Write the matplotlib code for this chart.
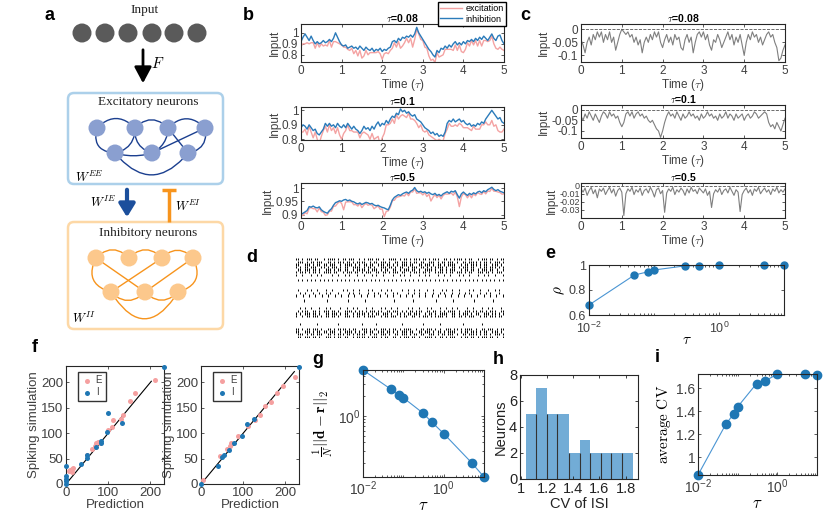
import numpy as np
import matplotlib
matplotlib.use('Agg')
import matplotlib.pyplot as plt
from matplotlib.patches import Circle, FancyBboxPatch, FancyArrowPatch
from matplotlib.ticker import LogLocator, NullFormatter

plt.rcParams['font.family'] = ['Liberation Sans', 'DejaVu Sans']
plt.rcParams['mathtext.fontset'] = 'cm'

# ---------------- data ----------------
time_step = 0.05  # traces sampled every 0.05 tau

# inhibition input (blue) and excitation - inhibition (panel c)
b1_inh = [0.92, 0.96, 0.99, 0.96, 0.93, 0.97, 0.93, 0.90, 0.92, 0.90,
          0.91, 0.93, 0.91, 0.92, 0.94, 0.92, 0.95, 1.00, 0.96, 0.92,
          0.89, 0.88, 0.89, 0.86, 0.87, 0.88, 0.86, 0.87, 0.85, 0.88,
          0.86, 0.84, 0.87, 0.85, 0.84, 0.86, 0.83, 0.85, 0.84, 0.86,
          0.83, 0.85, 0.84, 0.86, 0.87, 0.92, 0.93, 0.91, 0.95, 0.93,
          0.96, 0.95, 0.97, 0.96, 0.98, 0.96, 0.99, 1.05, 1.00, 0.97,
          0.94, 0.91, 0.88, 0.85, 0.83, 0.80, 0.78, 0.84, 0.82, 0.86,
          0.85, 0.88, 0.86, 0.89, 0.87, 0.90, 0.92, 0.89, 0.91, 0.89,
          0.92, 0.90, 0.93, 0.92, 0.94, 0.92, 0.95, 0.93, 0.96, 0.94,
          0.97, 0.95, 0.93, 0.96, 0.99, 0.95, 0.93, 0.97, 0.98, 0.93,
          0.90]
c1_diff = [-0.04, -0.06, -0.09, -0.05, -0.03, -0.06, -0.02, -0.04, -0.01, -0.03,
           -0.01, -0.05, -0.02, -0.04, -0.01, -0.05, -0.03, -0.08, -0.05, -0.02,
           0.00, -0.01, -0.02, -0.01, -0.03, -0.02, -0.05, -0.03, -0.06, -0.04,
           -0.09, -0.05, -0.03, -0.05, -0.02, -0.04, -0.01, -0.03, -0.01, -0.05,
           -0.07, -0.04, -0.02, -0.05, -0.03, -0.06, -0.02, -0.04, -0.03, -0.07,
           -0.08, -0.04, -0.02, -0.05, -0.03, -0.09, -0.05, -0.02, -0.01, -0.03,
           -0.01, -0.04, -0.02, -0.06, -0.08, -0.04, -0.05, -0.02, -0.04, -0.07,
           -0.05, -0.03, -0.01, -0.04, -0.02, -0.06, -0.03, -0.05, -0.02, -0.06,
           -0.10, -0.05, -0.02, -0.04, -0.01, -0.03, -0.02, -0.05, -0.03, -0.06,
           -0.04, -0.02, -0.01, -0.03, -0.02, -0.05, -0.07, -0.12, -0.11, -0.08,
           -0.06]

b2_inh = [0.88, 0.90, 0.89, 0.87, 0.90, 0.88, 0.86, 0.87, 0.84, 0.83,
          0.85, 0.87, 0.91, 0.89, 0.91, 0.89, 0.90, 0.88, 0.91, 0.89,
          0.88, 0.90, 0.88, 0.91, 0.89, 0.87, 0.89, 0.87, 0.86, 0.84,
          0.86, 0.89, 0.87, 0.88, 0.86, 0.89, 0.87, 0.90, 0.92, 0.89,
          0.91, 0.90, 0.93, 0.91, 0.94, 0.96, 0.95, 0.98, 0.97, 1.01,
          0.99, 1.00, 0.98, 0.99, 0.97, 0.96, 0.97, 0.94, 0.93, 0.92,
          0.90, 0.88, 0.87, 0.86, 0.84, 0.85, 0.83, 0.84, 0.82, 0.83,
          0.82, 0.85, 0.91, 0.93, 0.92, 0.94, 0.92, 0.93, 0.94, 0.92,
          0.93, 0.91, 0.90, 0.91, 0.89, 0.90, 0.89, 0.91, 0.90, 0.92,
          0.91, 0.94, 0.96, 0.98, 1.00, 0.98, 0.96, 0.94, 0.95, 0.92,
          0.91]
c2_diff = [-0.03, -0.05, -0.02, -0.04, -0.01, -0.03, -0.05, -0.02, -0.04, -0.06,
           -0.03, -0.01, -0.02, -0.04, -0.01, -0.03, -0.02, -0.04, -0.03, -0.06,
           -0.08, -0.06, -0.02, -0.01, -0.03, -0.01, -0.04, -0.02, -0.01, -0.03,
           -0.02, -0.04, -0.03, -0.05, -0.06, -0.05, -0.07, -0.09, -0.10, -0.13,
           -0.10, -0.06, -0.03, -0.01, -0.03, -0.02, -0.04, -0.01, -0.03, -0.05,
           -0.02, -0.04, -0.03, -0.01, -0.03, -0.02, -0.04, -0.03, -0.05, -0.02,
           -0.04, -0.03, -0.01, -0.03, -0.02, -0.04, -0.03, -0.05, -0.02, -0.04,
           -0.03, -0.01, -0.04, -0.02, -0.03, -0.05, -0.02, -0.04, -0.03, -0.02,
           -0.05, -0.03, -0.02, -0.04, -0.03, -0.01, -0.02, -0.04, -0.03, -0.02,
           -0.01, -0.02, -0.06, -0.08, -0.07, -0.09, -0.06, -0.08, -0.10, -0.07,
           -0.04]

b3_inh = [0.900, 0.905, 0.910, 0.915, 0.930, 0.928, 0.932, 0.927, 0.925, 0.929,
          0.918, 0.912, 0.908, 0.905, 0.915, 0.922, 0.935, 0.945, 0.948, 0.952,
          0.950, 0.955, 0.957, 0.952, 0.955, 0.950, 0.948, 0.943, 0.940, 0.944,
          0.938, 0.942, 0.946, 0.944, 0.940, 0.942, 0.936, 0.933, 0.935, 0.930,
          0.927, 0.925, 0.921, 0.918, 0.935, 0.955, 0.965, 0.970, 0.975, 0.972,
          0.978, 0.982, 0.985, 0.980, 0.988, 0.992, 1.002, 0.990, 0.985, 0.988,
          0.983, 0.986, 0.980, 0.984, 0.978, 0.975, 0.980, 0.972, 0.976, 0.970,
          0.978, 0.982, 0.986, 0.980, 0.988, 0.985, 0.990, 0.975, 0.962, 0.978,
          0.985, 0.978, 0.972, 0.980, 0.975, 0.982, 0.978, 0.985, 0.988, 0.982,
          0.990, 0.986, 0.994, 0.998, 1.003, 0.995, 0.990, 0.994, 0.988, 0.985,
          0.982]
c3_diff = [-0.004, -0.008, -0.003, -0.012, -0.006, -0.002, -0.010, -0.005, -0.015, -0.004,
           -0.007, -0.003, -0.011, -0.006, -0.002, -0.009, -0.004, -0.013, -0.006, -0.003,
           -0.008, -0.037, -0.010, -0.004, -0.007, -0.002, -0.011, -0.005, -0.008, -0.003,
           -0.012, -0.006, -0.004, -0.009, -0.002, -0.007, -0.014, -0.005, -0.003, -0.010,
           -0.006, -0.033, -0.009, -0.004, -0.007, -0.002, -0.011, -0.005, -0.008, -0.003,
           -0.006, -0.012, -0.004, -0.009, -0.002, -0.007, -0.005, -0.010, -0.003, -0.006,
           -0.009, -0.004, -0.012, -0.007, -0.027, -0.010, -0.005, -0.008, -0.003, -0.011,
           -0.006, -0.004, -0.009, -0.002, -0.007, -0.012, -0.005, -0.008, -0.032, -0.011,
           -0.006, -0.003, -0.009, -0.005, -0.012, -0.004, -0.007, -0.002, -0.010, -0.006,
           -0.003, -0.008, -0.005, -0.011, -0.004, -0.007, -0.002, -0.009, -0.005, -0.008,
           -0.004]

tau_titles = ['0.08', '0.1', '0.5']
b_ylims = [(0.735, 1.08), (0.795, 1.023), (0.887, 1.019)]
b_yticks = [[0.8, 0.9, 1], [0.8, 0.9, 1], [0.9, 0.95, 1]]
b_yticklabels = [['0.8', '0.9', '1'], ['0.8', '0.9', '1'], ['0.9', '0.95', '1']]
c_ylims = [(-0.125, 0.02), (-0.133, 0.022), (-0.040, 0.0033)]
c_yticks = [[-0.1, -0.05, 0], [-0.1, -0.05, 0], [-0.03, -0.02, -0.01, 0]]
c_yticklabels = [['-0.1', '-0.05', '0'], ['-0.1', '-0.05', '0'], ['-0.03', '-0.02', '-0.01', '0']]
time_ticks = [0, 1, 2, 3, 4, 5]

# panel d spike raster, one string per neuron ('|' = spike in a bin)
D_a = "||.|.|||.||..|.||||.|.||.|||..|.|.|||.||.|..||||.|.||.|.|||.||.|.|||..||.|.||||.|.||..|.|||.||.|.||"
D_b = ".|||.|.||.|||..||.|.|||.||.|.||||..|.||.|||.|..||.|||.|.||.||..|||.|.||.|||.|..||.||||.|.||.|.|||.|"
D_c = "||..|||.|.||.||.|||..|.||||.|.|.||.||..|||.||.|.|.|||.||..||.|||.|.||.|.||||..|.||.|||.|.||..|||.|."
D_d = "|.|.||.|||..||.|.|||.|.||..||||.|.||.|..|||.||.|.||..|.|||.||.|.|.||||.|..||.|.|||.||..|.||.|||.|.|"
D_e = ".||.|||.||.|..|||.|.||.||..|.||||.|.|||.|.||..||.|.|||.||.|..||||.|.||.|.|||..|.||.||.|.|||.||.|..|"
M_a = "|..|...|..|.|....|..|..|.|...|..|...|.|..|....|..|.|..|...|..|.|...|..|..|...|.|..|...|..|.|..|...|"
M_b = ".|...|.|..|...|..|....|.|..|..|...|.|...|..|.|....|..|..|.|...|..|...|.|..|..|....|.|..|...|..|.|.."
M_c = "..|.|...|..|..|.|...|....|.|..|...|..|.|..|...|.|....|..|.|..|...|..|.|...|..|..|.|....|..|.|...|.."
R_a = "|..|..|..|..|..|..|..|..|..|..|..|..|..|..|..|..|..|..|..|..|..|..|..|..|..|..|..|..|..|..|..|..|"
R_b = ".|.|.|.|.|.|.|.|.|.|.|.|.|.|.|.|.|.|.|.|.|.|.|.|.|.|.|.|.|.|.|.|.|.|.|.|.|.|.|.|.|.|.|.|.|.|.|.|.|"
S_a = "....|..........|.........|.......|.............|........|..........|.......|.........|........|....."
S_b = "..|.......|.........|..........|......|...........|.........|.......|..........|........|.........."
raster_rows = [D_a, D_b, D_c, D_d, D_e, D_b[::-1], M_a, '', R_b, '', '', '',
               M_b, M_c, R_a, '', S_a, '', '', M_b[::-1], D_c[::-1], D_d[::-1],
               D_e[::-1], '', '', S_b, '', D_a[::-1], D_c, D_b, D_e]

# panel e, g, i
tau_vals = [0.01, 0.05, 0.08, 0.1, 0.3, 0.5, 1, 5, 10]
rho_vals = [0.68, 0.92, 0.945, 0.96, 0.993, 0.996, 0.999, 0.999, 0.999]
err_vals = [4.84, 2.48, 2.04, 1.86, 1.11, 0.813, 0.543, 0.197, 0.1216]
cv_vals = [0.846, 1.287, 1.38, 1.44, 1.643, 1.667, 1.725, 1.725, 1.72]

# panel f
f1_E_pred = [210, 164, 152, 136, 130, 112, 110, 100, 76, 72, 80, 62, 14, 6, 10, 14, 16, 50, 68]
f1_E_sim = [205, 178, 163, 136, 127, 125, 113, 107, 83, 80, 81, 68, 29, 25, 27, 23, 31, 57, 75]
f1_I_pred = [232, 100, 132, 98, 84, 82, 70, 50, 50, 36, 0, 0, 0, 0, 0]
f1_I_sim = [231, 140, 120, 102, 81, 85, 72, 57, 52, 40, 36, 16, 10, 5, 0]
f2_E_pred = [4, 45, 61, 68, 72, 88, 112, 128, 140, 151, 165, 180, 195, 222]
f2_E_sim = [8, 56, 69, 74, 81, 95, 115, 125, 136, 154, 162, 178, 193, 211]
f2_I_pred = [0, 41, 50, 55, 67, 78, 96, 109, 125, 232]
f2_I_sim = [0, 36, 54, 58, 67, 80, 95, 118, 128, 231]
f_line_end = [202, 221]
f_lim = 232

# panel h
cv_edges = [1.04, 1.12, 1.20, 1.28, 1.37, 1.45, 1.53, 1.61, 1.69, 1.77, 1.855]
cv_counts = [5, 7, 5, 5, 2, 3, 2, 2, 2, 2]

# panel a schematic layout (pixel positions)
input_x = [82, 105, 128, 152, 174, 197]
input_y = 33
exc_nodes = [(97, 128), (135, 128), (168, 128), (205, 128), (115, 153), (152, 153), (188, 153)]
inh_nodes = [(96, 258), (129, 258), (162, 258), (193, 258), (111, 292), (145, 292), (178, 292)]
exc_edges = [(0, 1, -0.5), (1, 2, -0.5), (2, 3, -0.5), (0, 4, 0.6), (1, 4, -0.4), (1, 5, 0.4),
             (2, 5, -0.3), (3, 6, -0.5), (4, 5, 0.15), (4, 6, 0.6), (5, 3, 0.0), (2, 6, 0.0)]
inh_edges = [(0, 1, -0.5), (1, 2, -0.5), (2, 3, -0.5), (0, 4, 0.6), (3, 6, -0.6), (0, 5, 0.0),
             (4, 2, 0.0), (5, 3, 0.0), (4, 5, 0.5), (5, 6, 0.5), (4, 6, 0.8)]

# colours
PINK = '#f4a3a3'
BLUE = '#2b7bba'
GRAY = '#7f7f7f'
TXT = '#404040'

W, H = 830, 526
fig = plt.figure(figsize=(8.3, 5.26), dpi=100)


def px_axes(x0, y0, x1, y1):
    return fig.add_axes([x0 / W, 1 - y1 / H, (x1 - x0) / W, (y1 - y0) / H])


def matlab(ax, fs=9):
    ax.tick_params(which='both', direction='in', top=True, right=True,
                   labelsize=fs, colors=TXT, width=0.6, pad=2)
    ax.tick_params(which='major', length=2.5)
    ax.tick_params(which='minor', length=1.5)
    for s in ax.spines.values():
        s.set_linewidth(0.8)
        s.set_color('#262626')


# ---------------- panel a (schematic) ----------------
ax0 = fig.add_axes([0, 0, 1, 1])
ax0.set_xlim(0, W)
ax0.set_ylim(H, 0)
ax0.axis('off')
serif = 'Liberation Serif'

ax0.text(145, 10, 'Input', family=serif, fontsize=9.5, ha='center', va='center', color='#222')
for x in input_x:
    ax0.add_patch(Circle((x, input_y), 9.5, color='#5a5a5a', lw=0))
ax0.annotate('', xy=(143, 86), xytext=(143, 47),
             arrowprops=dict(arrowstyle='-|>,head_width=0.4,head_length=0.75',
                             color='k', lw=2.0, mutation_scale=13))
ax0.text(158, 64, r'$F$', fontsize=11, ha='center', va='center')

ax0.add_patch(FancyBboxPatch((68, 93), 155, 91, boxstyle='round,pad=0,rounding_size=6',
                             fc='white', ec='#acd0ea', lw=1.8))
ax0.text(148, 102, 'Excitatory neurons', family=serif, fontsize=9.5, ha='center', va='center', color='#222')
ax0.add_patch(FancyBboxPatch((68, 222), 155, 107, boxstyle='round,pad=0,rounding_size=6',
                             fc='white', ec='#fdd8a6', lw=1.8))
ax0.text(148, 233, 'Inhibitory neurons', family=serif, fontsize=9.5, ha='center', va='center', color='#222')

for nodes, edges, ecol, ncol in [(exc_nodes, exc_edges, '#1b3f8f', '#8a9fd0'),
                                 (inh_nodes, inh_edges, '#f7941d', '#fcc88c')]:
    for i, j, rad in edges:
        ax0.add_patch(FancyArrowPatch(nodes[i], nodes[j], arrowstyle='-',
                                      connectionstyle='arc3,rad=%g' % rad,
                                      color=ecol, lw=1.0, shrinkA=5, shrinkB=5, zorder=2))
    for (x, y) in nodes:
        ax0.add_patch(Circle((x, y), 8.5, color=ncol, lw=0, zorder=3))

ax0.text(75, 177, r'$W^{EE}$', fontsize=9, ha='left', va='center')
ax0.text(72, 318, r'$W^{II}$', fontsize=9, ha='left', va='center')
ax0.text(103, 202, r'$W^{IE}$', fontsize=9, ha='center', va='center')
ax0.text(188, 206, r'$W^{EI}$', fontsize=9, ha='center', va='center')
ax0.annotate('', xy=(127, 220), xytext=(127, 187),
             arrowprops=dict(arrowstyle='-|>,head_width=0.4,head_length=0.65',
                             color='#1c4f9c', lw=3, mutation_scale=12))
ax0.plot([169, 169], [222, 190], color='#f7941d', lw=2.5, solid_capstyle='butt')
ax0.plot([162, 176], [190, 190], color='#f7941d', lw=2.5, solid_capstyle='butt')

# ---------------- panels b and c ----------------
b_boxes = [(301, 24, 504, 62), (301, 107, 504, 140), (301, 183, 504, 218)]
c_boxes = [(581, 24, 785, 62), (581, 105, 785, 138), (581, 183, 785, 218)]
inh_list = [b1_inh, b2_inh, b3_inh]
diff_list = [c1_diff, c2_diff, c3_diff]

for k in range(3):
    inh = np.array(inh_list[k])
    diff = np.array(diff_list[k])
    exc = inh + diff
    tt = np.arange(len(inh)) * time_step

    ax = px_axes(*b_boxes[k])
    ax.plot(tt, exc, color=PINK, lw=1.0, label='excitation')
    ax.plot(tt, inh, color=BLUE, lw=1.0, label='inhibition')
    ax.set_xlim(0, 5)
    ax.set_ylim(*b_ylims[k])
    ax.set_xticks(time_ticks)
    ax.set_yticks(b_yticks[k])
    ax.set_yticklabels(b_yticklabels[k])
    matlab(ax, 8.5)
    ax.set_ylabel('Input', fontsize=8.5, color=TXT, labelpad=1)
    ax.set_xlabel(r'Time ($\tau$)', fontsize=8.5, color=TXT, labelpad=0)
    ax.set_title(r'$\tau$=' + tau_titles[k], fontsize=7.5, fontweight='bold', pad=1.5)
    if k == 0:
        fig.legend(handles=ax.get_lines(), labels=['excitation', 'inhibition'],
                   loc='upper right', bbox_to_anchor=(506 / W, 1 - 2 / H),
                   fontsize=6.5, fancybox=False, edgecolor='k', framealpha=1,
                   borderpad=0.25, labelspacing=0.15, handlelength=2.4,
                   handletextpad=0.4, borderaxespad=0)

    axc = px_axes(*c_boxes[k])
    axc.plot(tt, diff, color=GRAY, lw=0.8)
    axc.axhline(0, color='#555555', ls='--', lw=0.6)
    axc.set_xlim(0, 5)
    axc.set_ylim(*c_ylims[k])
    axc.set_xticks(time_ticks)
    axc.set_yticks(c_yticks[k])
    axc.set_yticklabels(c_yticklabels[k])
    matlab(axc, 8.5)
    if k == 2:
        axc.tick_params(axis='y', labelsize=6.5, pad=1)
    axc.set_ylabel('Input', fontsize=8.5, color=TXT, labelpad=1)
    axc.set_xlabel(r'Time ($\tau$)', fontsize=8.5, color=TXT, labelpad=0)
    axc.set_title(r'$\tau$=' + tau_titles[k], fontsize=7.5, fontweight='bold', pad=1.5)

# ---------------- panel d raster ----------------
axd = px_axes(295, 258, 504, 338)
for r, row in enumerate(raster_rows):
    if not row:
        continue
    spikes = [5.0 * (i + 0.5) / len(row) for i, ch in enumerate(row) if ch == '|']
    axd.eventplot(spikes, lineoffsets=r, linelengths=0.9, colors='k', linewidths=0.7)
axd.set_xlim(0, 5)
axd.set_ylim(len(raster_rows) - 0.5, -0.5)
axd.axis('off')


def log_tau_axis(ax):
    ax.set_xscale('log')
    ax.set_xlim(0.01, 10)
    ax.set_xticks([1e-2, 1e0])
    ax.xaxis.set_minor_locator(LogLocator(base=10, subs=np.arange(1, 10), numticks=20))
    ax.xaxis.set_minor_formatter(NullFormatter())


LINE_BLUE = '#4a95d3'
DOT_BLUE = '#1f77b4'

# ---------------- panel e ----------------
axe = px_axes(589, 265, 784, 315)
axe.plot(tau_vals, rho_vals, color=LINE_BLUE, lw=0.8)
axe.plot(tau_vals, rho_vals, 'o', color=DOT_BLUE, ms=5, clip_on=False)
log_tau_axis(axe)
axe.set_ylim(0.6, 1)
axe.set_yticks([0.6, 0.8, 1])
axe.set_yticklabels(['0.6', '0.8', '1'])
matlab(axe, 9)
axe.tick_params(axis='x', pad=4)
axe.set_ylabel(r'$\rho$', fontsize=11, labelpad=1)
axe.set_xlabel(r'$\tau$', fontsize=11, labelpad=-2)

# ---------------- panel f ----------------
f_data = [(f1_E_pred, f1_E_sim, f1_I_pred, f1_I_sim), (f2_E_pred, f2_E_sim, f2_I_pred, f2_I_sim)]
f_boxes = [(66, 366, 164, 484), (201, 366, 299, 484)]
for k in range(2):
    ep, es, ip, isim = f_data[k]
    ax = px_axes(*f_boxes[k])
    ax.plot([0, f_line_end[k]], [0, f_line_end[k]], color='k', lw=0.8, zorder=1)
    ax.scatter(ep, es, s=13, color='#f5a0a0', lw=0, label='E', clip_on=False, zorder=3)
    ax.scatter(ip, isim, s=13, color=DOT_BLUE, lw=0, label='I', clip_on=False, zorder=3)
    ax.set_xlim(0, f_lim)
    ax.set_ylim(0, f_lim)
    ax.set_xticks([0, 100, 200])
    ax.set_yticks([0, 50, 100, 150, 200])
    matlab(ax, 9.5)
    ax.set_xlabel('Prediction', fontsize=9.5, color=TXT, labelpad=0)
    ax.set_ylabel('Spiking simulation', fontsize=9.5, color=TXT, labelpad=1)
    leg = ax.legend(loc='upper left', bbox_to_anchor=(0.12, 0.95), fontsize=7,
                    fancybox=False, edgecolor='#333333', framealpha=1, borderpad=0.35,
                    labelspacing=0.2, handlelength=1.2, handletextpad=0.3, borderaxespad=0)
    for t in leg.get_texts():
        t.set_color(TXT)

# ---------------- panel g ----------------
axg = px_axes(363, 370, 484, 477)
axg.plot(tau_vals, err_vals, color=LINE_BLUE, lw=0.8)
axg.plot(tau_vals, err_vals, 'o', color=DOT_BLUE, ms=6, clip_on=False)
log_tau_axis(axg)
axg.set_yscale('log')
axg.set_ylim(min(err_vals), max(err_vals))
axg.yaxis.set_minor_formatter(NullFormatter())
matlab(axg, 10)
axg.set_ylabel(r'$\frac{1}{N}||\mathbf{d}-\mathbf{r}||_2$', fontsize=11, labelpad=2)
axg.set_xlabel(r'$\tau$', fontsize=12, labelpad=0)

# ---------------- panel h ----------------
axh = px_axes(520, 375, 638, 479)
axh.bar(cv_edges[:-1], cv_counts, width=np.diff(cv_edges), align='edge',
        color='#72acd6', edgecolor='none')
axh.vlines(cv_edges[1:-1], 0, np.minimum(cv_counts[:-1], cv_counts[1:]), color='#333333', lw=0.8)
axh.set_xlim(0.995, 1.895)
axh.set_ylim(0, 8)
axh.set_xticks([1, 1.2, 1.4, 1.6, 1.8])
axh.set_xticklabels(['1', '1.2', '1.4', '1.6', '1.8'])
axh.set_yticks([0, 2, 4, 6, 8])
matlab(axh, 10.5)
axh.tick_params(colors='#222222')
axh.set_xlabel('CV of ISI', fontsize=10.5, color='#222222', labelpad=1)
axh.set_ylabel('Neurons', fontsize=10.5, color='#222222', labelpad=1)

# ---------------- panel i ----------------
axi = px_axes(698, 374, 817, 475)
axi.plot(tau_vals, cv_vals, color=LINE_BLUE, lw=0.8)
axi.plot(tau_vals, cv_vals, 'o', color=DOT_BLUE, ms=6, clip_on=False)
log_tau_axis(axi)
axi.set_ylim(min(cv_vals), 1.726)
axi.set_yticks([1, 1.2, 1.4, 1.6])
axi.set_yticklabels(['1', '1.2', '1.4', '1.6'])
matlab(axi, 10)
axi.set_ylabel(r'$\mathrm{average\ CV}$', fontsize=11, labelpad=2)
axi.set_xlabel(r'$\tau$', fontsize=12, labelpad=0)

# ---------------- panel letters ----------------
for lab, (x, y) in zip('abcdefghi', [(49, 15), (248, 15), (525, 15), (252, 257), (550, 253),
                                     (35, 347), (318, 360), (498, 360), (657, 358)]):
    fig.text(x / W, 1 - y / H, lab, fontsize=13, fontweight='bold', ha='center', va='center')

fig.savefig('out.png', dpi=100)
